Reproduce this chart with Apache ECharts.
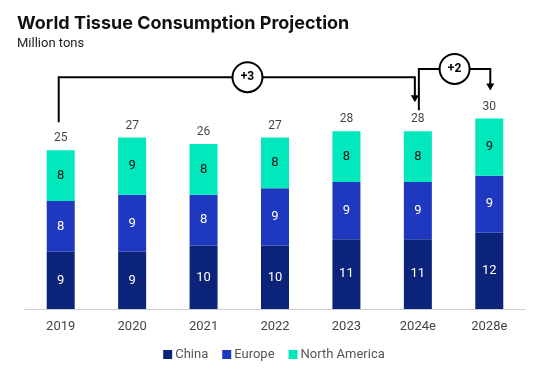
<!DOCTYPE html>
<html><head><meta charset="utf-8">
<script src="https://cdn.jsdelivr.net/npm/echarts@6/dist/echarts.min.js"></script>
<style>html,body{margin:0;padding:0;background:#fff}#c{width:548px;height:383px}</style>
</head><body><div id="c"></div>
<script>
const categories = ['2019','2020','2021','2022','2023','2024e','2028e'];
const china = [9,9,10,10,11,11,12];
const europe = [8,9,8,9,9,9,9];
const northAmerica = [8,9,8,8,8,8,9];
const totals = [25,27,26,27,28,28,30];
const deltas = [{from:0,to:5,text:'+3'},{from:5,to:6,text:'+2'}];

const colors = ['#0b247a','#1f38c0','#00e8bc'];
const chart = echarts.init(document.getElementById('c'), null, {renderer:'canvas'});
const FONT = 'Roboto, "Liberation Sans", sans-serif';
const barW = 28;
function barSeries(name, data, color, labelColor){
  return {name, type:'bar', stack:'s', data, barWidth:barW,
    itemStyle:{color},
    label:{show:true, position:'inside', color:labelColor, fontSize:13, fontFamily:FONT},
    emphasis:{disabled:true}};
}
chart.setOption({
  animation:false,
  title:{text:'World Tissue Consumption Projection', subtext:'Million tons', left:12, top:10,
    textStyle:{fontSize:18, fontWeight:'bold', color:'#111', fontFamily:'Inter, sans-serif'},
    subtextStyle:{fontSize:13, color:'#222', fontFamily:FONT}, itemGap:4},
  legend:{bottom:17, left:'center', itemWidth:9, itemHeight:9, itemGap:14, icon:'rect',
    textStyle:{fontSize:13, color:'#555', fontFamily:FONT, padding:[0,0,0,-2]},
    data:['China','Europe','North America']},
  grid:{left:25, right:23, top:55, bottom:74},
  xAxis:{type:'category', data:categories,
    axisLine:{lineStyle:{color:'#ccc'}}, axisTick:{show:false},
    axisLabel:{fontSize:13, color:'#444', margin:11, fontFamily:FONT}},
  yAxis:{type:'value', min:0, max:40, show:false, splitLine:{show:false}},
  series:[
    barSeries('China', china, colors[0], '#fff'),
    barSeries('Europe', europe, colors[1], '#fff'),
    barSeries('North America', northAmerica, colors[2], '#111'),
    {type:'scatter', data:totals, symbolSize:0, silent:true,
      label:{show:true, position:'top', distance:6, color:'#111', fontSize:12, fontFamily:FONT}}
  ]
});

function px(i, v){ return chart.convertToPixel({gridIndex:0}, [i, v]); }
const graphics = [];
const lw = 2;
function bracket(d, yH, startOff, endOff, xs, xe, frac){
  const a = px(d.from, totals[d.from]);
  const b = px(d.to, totals[d.to]);
  const x1 = a[0]+xs, x2 = b[0]+xe;
  const y1 = a[1]-startOff, y2 = b[1]-endOff;
  graphics.push({type:'polyline', shape:{points:[[x1,y1],[x1,yH],[x2,yH],[x2,y2-6]]},
    style:{stroke:'#000', lineWidth:lw, fill:null}, z:10});
  graphics.push({type:'polygon', shape:{points:[[x2-4,y2-7],[x2+4,y2-7],[x2,y2]]},
    style:{fill:'#000'}, z:10});
  const cx = x1 + (x2-x1)*frac;
  graphics.push({type:'circle', shape:{cx, cy:yH, r:15}, style:{fill:'#fff', stroke:'#000', lineWidth:lw}, z:11});
  graphics.push({type:'text', x:cx, y:yH, style:{text:d.text, fontSize:12, fontWeight:'bold', fill:'#000',
    align:'center', verticalAlign:'middle', fontFamily:FONT}, z:12});
}
bracket(deltas[0], px(0,36.5)[1], 28, 29, -2, -3, 0.53);
bracket(deltas[1], px(0,37.8)[1], 21, 28, 1, 1, 0.5);
chart.setOption({graphic:graphics});
</script></body></html>
